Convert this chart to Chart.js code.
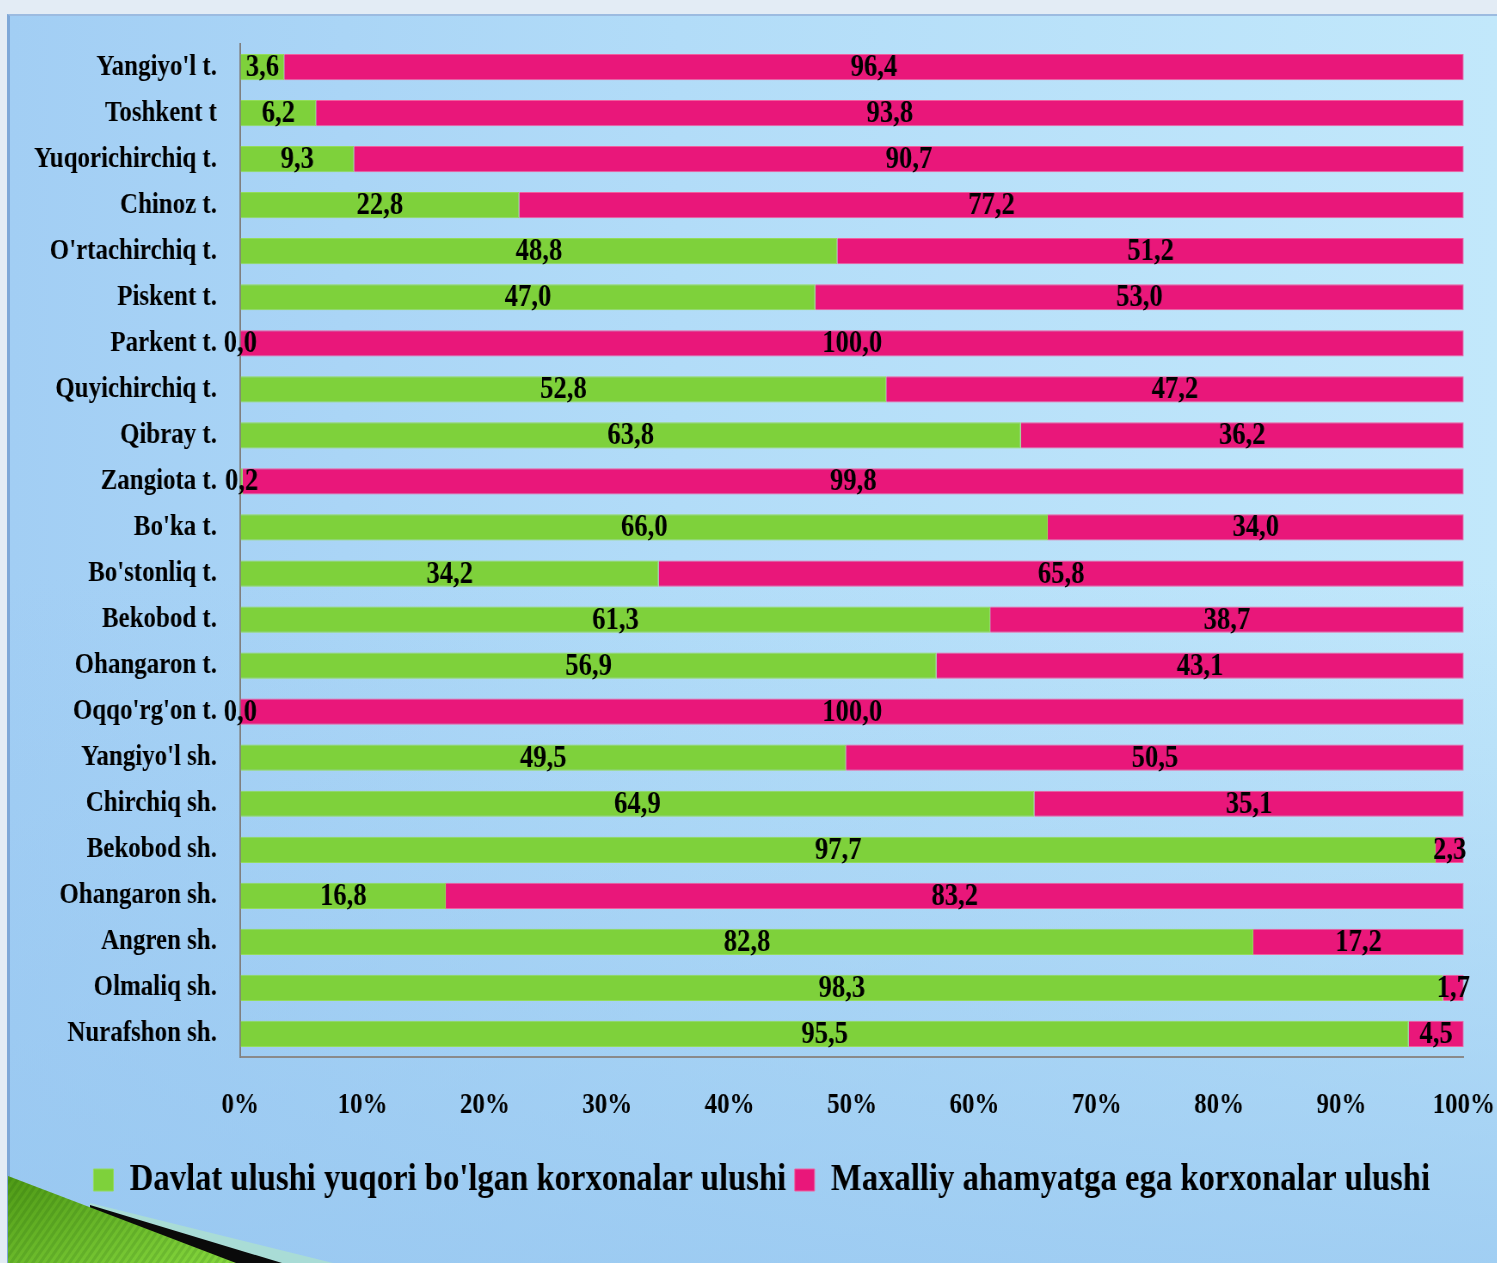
<!DOCTYPE html>
<html>
<head>
<meta charset="utf-8">
<script src="https://cdn.jsdelivr.net/npm/chart.js@4/dist/chart.umd.min.js"></script>
<style>
  html, body { margin: 0; padding: 0; width: 1497px; height: 1263px; overflow: hidden; background: #e3ecf5; }
  #panel {
    position: absolute; left: 7px; top: 14px; width: 1490px; height: 1249px;
    box-sizing: border-box;
    border-top: 2px solid #9cbbe0; border-left: 3px solid #7ea8d8;
    background:
      linear-gradient(to bottom, rgba(150,198,240,0) 45%, rgba(150,198,240,0.75) 100%),
      linear-gradient(to right, #a2cef4 0%, #b2dcf8 45%, #c2e8fb 100%);
  }
  #deco { position: absolute; left: 8px; top: 1170px; width: 340px; height: 93px; }
  #wrap {
    position: absolute; left: 8px; top: 15px; width: 1731px; height: 1248px;
    transform: scaleX(0.86); transform-origin: 0 0;
  }
</style>
</head>
<body>
<div id="panel"></div>
<svg id="deco" viewBox="0 0 340 93" width="340" height="93">
  <defs>
    <linearGradient id="g1" x1="0" y1="0" x2="1" y2="1">
      <stop offset="0" stop-color="#4f9a16"/>
      <stop offset="1" stop-color="#86d83e"/>
    </linearGradient>
    <pattern id="stripes" width="6" height="6" patternUnits="userSpaceOnUse" patternTransform="rotate(35)">
      <rect width="3" height="6" fill="rgba(0,60,0,0.12)"/>
    </pattern>
  </defs>
  <polygon points="82,33 325,93 82,93" fill="#a9dcd6"/>
  <polygon points="82,35 274,93 82,93" fill="#0a0a0a"/>
  <polygon points="0,6 228,93 0,93" fill="url(#g1)"/>
  <polygon points="0,6 228,93 0,93" fill="url(#stripes)"/>
</svg>
<div id="wrap"><canvas id="c"></canvas></div>
<script>
const categories = ["Yangiyo'l t.", "Toshkent t", "Yuqorichirchiq t.", "Chinoz t.", "O'rtachirchiq t.", "Piskent t.", "Parkent t.", "Quyichirchiq t.", "Qibray t.", "Zangiota t.", "Bo'ka t.", "Bo'stonliq t.", "Bekobod t.", "Ohangaron t.", "Oqqo'rg'on t.", "Yangiyo'l sh.", "Chirchiq sh.", "Bekobod sh.", "Ohangaron sh.", "Angren sh.", "Olmaliq sh.", "Nurafshon sh."];
const davlatShare = [3.6, 6.2, 9.3, 22.8, 48.8, 47.0, 0.0, 52.8, 63.8, 0.2, 66.0, 34.2, 61.3, 56.9, 0.0, 49.5, 64.9, 97.7, 16.8, 82.8, 98.3, 95.5];
const maxalliyShare = [96.4, 93.8, 90.7, 77.2, 51.2, 53.0, 100.0, 47.2, 36.2, 99.8, 34.0, 65.8, 38.7, 43.1, 100.0, 50.5, 35.1, 2.3, 83.2, 17.2, 1.7, 4.5];
const seriesNames = ["Davlat ulushi yuqori bo'lgan korxonalar ulushi", "Maxalliy ahamyatga ega korxonalar ulushi"];
const xTicks = [0, 10, 20, 30, 40, 50, 60, 70, 80, 90, 100];

const FONT = '"Liberation Serif", "Times New Roman", serif';
const fmt = v => v.toFixed(1).replace('.', ',');

const valueLabels = {
  id: 'valueLabels',
  afterDatasetsDraw(chart) {
    const ctx = chart.ctx;
    ctx.save();
    ctx.font = 'bold 31px ' + FONT;
    ctx.fillStyle = '#000';
    ctx.textAlign = 'center';
    ctx.textBaseline = 'middle';
    chart.data.datasets.forEach((ds, i) => {
      const meta = chart.getDatasetMeta(i);
      meta.data.forEach((bar, j) => {
        const p = bar.getProps(['x', 'y', 'base'], true);
        ctx.fillText(fmt(ds.data[j]), (p.x + p.base) / 2, p.y + 1);
      });
    });
    ctx.restore();
  }
};

new Chart(document.getElementById('c'), {
  type: 'bar',
  data: {
    labels: categories,
    datasets: [
      { label: seriesNames[0], data: davlatShare, backgroundColor: '#7ed13b', borderColor: '#93dc5a', borderWidth: 1, barPercentage: 0.57, categoryPercentage: 1 },
      { label: seriesNames[1], data: maxalliyShare, backgroundColor: '#e9177a', borderColor: '#f0609f', borderWidth: 1, barPercentage: 0.57, categoryPercentage: 1 }
    ]
  },
  options: {
    indexAxis: 'y',
    responsive: true,
    maintainAspectRatio: false,
    animation: false,
    layout: { padding: { top: 29, left: 22, right: 0, bottom: 54 } },
    scales: {
      x: {
        stacked: true, min: 0, max: 100,
        afterBuildTicks: s => { s.ticks = xTicks.map(v => ({ value: v })); },
        ticks: { callback: v => v + '%', font: { family: FONT, size: 29, weight: 'bold' }, color: '#000', padding: 2, maxRotation: 0, autoSkip: false },
        grid: { display: true, drawOnChartArea: false, drawTicks: true, tickLength: 29, color: 'rgba(0,0,0,0)' },
        border: { display: true, color: '#8a8a8a', width: 2 },
        afterFit: s => { s.height = 94; }
      },
      y: {
        stacked: true,
        ticks: { font: { family: FONT, size: 29, weight: 'bold' }, color: '#000', padding: 0, autoSkip: false },
        grid: { display: true, drawOnChartArea: false, drawTicks: true, tickLength: 27, color: 'rgba(0,0,0,0)' },
        border: { display: true, color: '#7f7f7f', width: 2 },
        afterFit: s => { s.width = 248; }
      }
    },
    plugins: {
      legend: {
        position: 'bottom',
        labels: { font: { family: FONT, size: 38, weight: 'bold' }, color: '#000', boxWidth: 23, boxHeight: 22, padding: 10 }
      },
      tooltip: { enabled: false }
    }
  },
  plugins: [valueLabels]
});
</script>
</body>
</html>
